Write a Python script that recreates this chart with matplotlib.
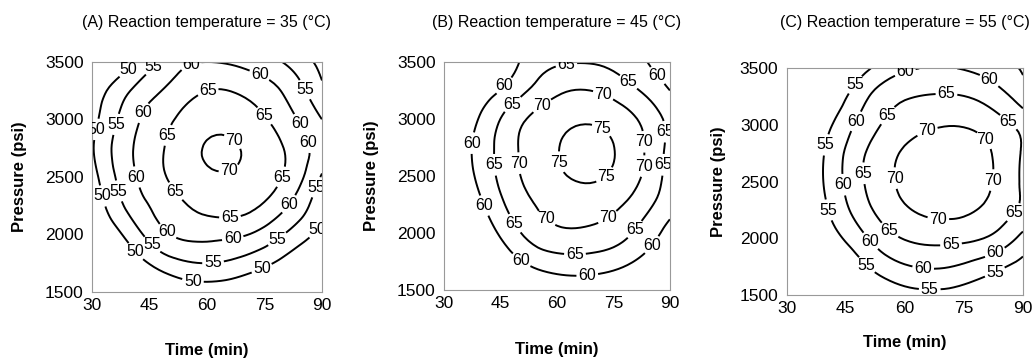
import numpy as np
import matplotlib
matplotlib.use("Agg")
import matplotlib.pyplot as plt
import matplotlib.tri as mtri

plt.rcParams['font.family'] = ['Liberation Sans', 'DejaVu Sans']

# grid: columns = time (min), rows = pressure (psi)
times = [30, 40, 50, 60, 70, 80, 90]
pressures = [1500, 1750, 2000, 2250, 2500, 2750, 3000, 3250, 3500]

yield_35 = [
    [32.0, 40.0, 45.5, 47.0, 45.5, 41.0, 35.0],
    [38.0, 46.5, 53.0, 55.0, 53.0, 48.5, 42.0],
    [43.0, 52.0, 59.8, 61.5, 60.3, 55.0, 48.5],
    [46.0, 56.5, 62.8, 66.5, 66.5, 61.0, 51.5],
    [48.0, 58.7, 65.3, 69.2, 69.0, 64.7, 54.5],
    [49.5, 59.4, 65.6, 70.4, 69.6, 65.0, 57.5],
    [48.0, 58.0, 64.3, 68.0, 67.3, 62.5, 55.0],
    [46.5, 55.0, 61.0, 65.0, 64.0, 59.5, 51.0],
    [41.0, 48.5, 57.0, 60.0, 58.5, 54.8, 48.5],
]
yield_45 = [
    [36.0, 45.0, 52.5, 56.5, 56.5, 53.5, 48.0],
    [42.0, 51.0, 59.5, 63.0, 63.0, 60.2, 54.5],
    [46.5, 56.0, 64.7, 69.0, 68.7, 65.0, 58.0],
    [50.0, 59.5, 67.8, 72.0, 72.5, 68.7, 62.0],
    [53.0, 61.7, 69.8, 74.3, 75.5, 71.8, 63.0],
    [54.0, 62.2, 70.2, 74.8, 76.2, 72.5, 63.5],
    [52.0, 60.8, 68.8, 73.3, 74.3, 70.8, 63.5],
    [48.0, 56.6, 63.5, 69.0, 69.8, 66.0, 60.0],
    [42.0, 50.0, 60.0, 64.3, 64.6, 62.0, 56.0],
]
yield_55 = [
    [31.0, 40.0, 48.0, 53.0, 53.5, 51.5, 47.0],
    [38.0, 46.0, 54.5, 59.5, 60.3, 57.5, 53.0],
    [42.0, 51.5, 59.5, 65.3, 66.5, 65.0, 58.5],
    [45.0, 54.5, 63.5, 69.5, 71.0, 69.5, 64.0],
    [46.5, 55.7, 65.3, 70.8, 72.0, 71.0, 64.2],
    [46.5, 55.5, 65.0, 70.5, 72.3, 71.0, 64.5],
    [44.0, 53.5, 62.3, 68.0, 69.8, 68.5, 63.5],
    [40.0, 49.5, 59.3, 64.5, 65.5, 63.7, 57.5],
    [35.0, 45.0, 54.0, 59.3, 60.3, 58.5, 54.5],
]

panels = [
    ("(A) Reaction temperature = 35 (\u00b0C)", yield_35, [50, 55, 60, 65, 70]),
    ("(B) Reaction temperature = 45 (\u00b0C)", yield_45, [60, 65, 70, 75]),
    ("(C) Reaction temperature = 55 (\u00b0C)", yield_55, [55, 60, 65, 70]),
]

# where the labels sit on each contour (time, pressure)
label_spots = [
    {50: [(39.9, 3413), (31.7, 2910), (31.7, 2326), (41.2, 1848), (56.4, 1620), (74.3, 1704), (88.2, 2056)],
     55: [(46.9, 3430), (36.9, 2952), (36.0, 2370), (45.6, 1909), (61.6, 1750), (78.5, 1952), (89.0, 2404), (86.4, 3274)],
     60: [(56.4, 3430), (74.3, 3430), (84.8, 2978), (85.8, 2796), (81.0, 2274), (66.8, 1952), (49.8, 2030), (40.7, 2491), (43.4, 3056)],
     65: [(60.3, 3239), (76.0, 3056), (78.2, 2517), (66.0, 2152), (49.8, 2326), (47.7, 2883)],
     70: [(66.0, 2778), (65.5, 2604)]},
    {60: [(45.8, 3298), (86.9, 3386), (37.8, 2787), (40.0, 2231), (51.5, 1807), (67.9, 1690), (84.2, 1924)],
     65: [(62.6, 3459), (79.8, 3357), (89.1, 2889), (89.6, 2596), (80.3, 2041), (64.8, 1851), (48.8, 2085), (42.7, 2596), (48.0, 3137)],
     70: [(55.9, 3123), (72.3, 3211), (83.8, 2801), (83.8, 2582), (73.6, 2129), (57.3, 2129), (49.3, 2611)],
     75: [(71.0, 2860), (59.5, 2611), (72.3, 2523)]},
    {55: [(48.6, 3324), (40.1, 2824), (40.6, 2250), (50.7, 1779), (66.3, 1588), (82.8, 1706)],
     60: [(60.4, 3426), (82.0, 3426), (47.8, 3029), (43.9, 2471), (51.1, 1971), (64.7, 1750), (82.8, 1882)],
     65: [(70.6, 3309), (54.9, 3103), (87.1, 3059), (49.4, 2574), (86.2, 2265), (56.2, 2074), (71.8, 1926)],
     70: [(65.1, 3000), (80.3, 2868), (57.0, 2529), (82.0, 2515), (68.5, 2176)]},
]

# axes boxes in figure fractions
boxes = [
    [0.0888, 0.1844, 0.2220, 0.6425],
    [0.4286, 0.1900, 0.2180, 0.6370],
    [0.7594, 0.1760, 0.2280, 0.6330],
]
ylab_x = [-0.283, -0.288, -0.257]
xlab_y = [-0.222, -0.228, -0.176]

fig = plt.figure(figsize=(10.36, 3.58), dpi=100)

tt, pp = np.meshgrid(times, pressures)
# triangulate on a grid scaled to equal steps, then map back to psi
base = mtri.Triangulation(tt.ravel(), pp.ravel() / 25.0)
refiner = mtri.UniformTriRefiner(base)

for i, (title, grid, levels) in enumerate(panels):
    ax = fig.add_axes(boxes[i])
    z = np.array(grid).ravel()
    interp = mtri.CubicTriInterpolator(base, z, kind='min_E')
    tri_fine, z_fine = refiner.refine_field(z, triinterpolator=interp, subdiv=3)
    tri_psi = mtri.Triangulation(tri_fine.x, tri_fine.y * 25.0, tri_fine.triangles)

    for lv in levels:
        cs = ax.tricontour(tri_psi, z_fine, levels=[lv], colors='black', linewidths=1.4)
        labels = ax.clabel(cs, fmt='%d', fontsize=11.5, inline=True, inline_spacing=2,
                           manual=label_spots[i][lv])
        for t in labels:
            t.set_rotation(0)

    ax.set_xlim(30, 90)
    ax.set_ylim(1500, 3500)
    ax.set_xticks([30, 45, 60, 75, 90])
    ax.set_yticks([1500, 2000, 2500, 3000, 3500])
    ax.tick_params(length=0, labelsize=12.5)
    ax.tick_params(axis='x', pad=4)
    ax.tick_params(axis='y', pad=6)
    for s in ax.spines.values():
        s.set_color('#999999')
        s.set_linewidth(0.8)
    ax.set_xlabel('Time (min)', fontsize=12, fontweight='bold')
    ax.set_ylabel('Pressure (psi)', fontsize=12, fontweight='bold')
    ax.xaxis.set_label_coords(0.5, xlab_y[i])
    ax.yaxis.set_label_coords(ylab_x[i], 0.5)
    cx = boxes[i][0] + boxes[i][2] / 2
    fig.text(cx, 0.938, title, ha='center', va='center', fontsize=11.5)

fig.savefig('out.png', dpi=100)
